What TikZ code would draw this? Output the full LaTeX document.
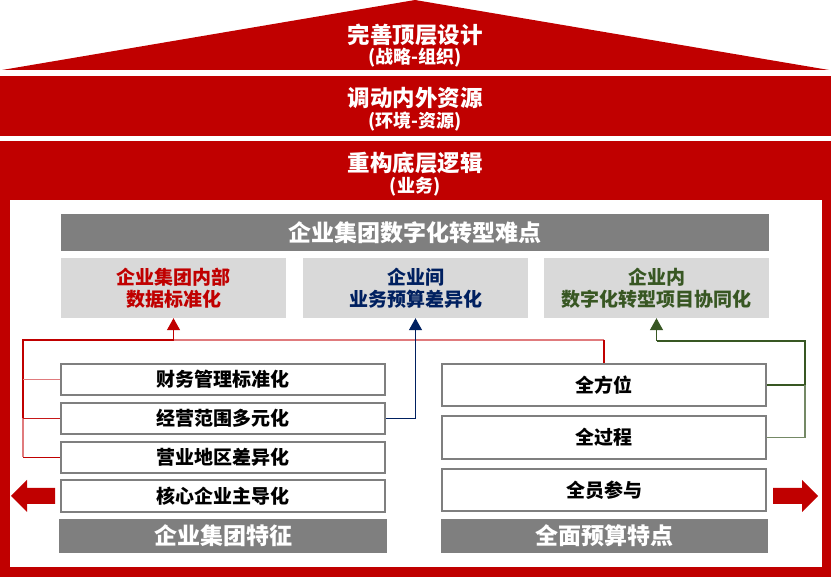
\documentclass[tikz,border=0pt]{standalone}
\usepackage{fontspec}
\setmainfont{Noto Sans CJK SC}
\usetikzlibrary{arrows.meta}
\definecolor{myred}{HTML}{C00000}
\definecolor{pinkred}{HTML}{E07B7D}
\definecolor{mygray}{HTML}{7F7F7F}
\definecolor{lightgr}{HTML}{D9D9D9}
\definecolor{myblue}{HTML}{002060}
\definecolor{mygreen}{HTML}{385723}
\tikzset{
  bigtxt/.style={text=white,font=\fontsize{22.5}{26}\selectfont\bfseries,inner sep=0pt},
  subtxt/.style={text=white,font=\fontsize{18}{20}\selectfont\bfseries,inner sep=0pt},
  graybar/.style={fill=mygray,text=white,font=\fontsize{23}{26}\selectfont\bfseries,inner sep=0pt},
  hardbox/.style={fill=lightgr,font=\fontsize{19}{22}\selectfont\bfseries,align=center,inner sep=0pt,minimum width=225pt,minimum height=60pt},
  featbox/.style={draw=mygray,line width=2pt,fill=white,font=\fontsize{19}{22}\selectfont\bfseries,inner sep=0pt,minimum width=324pt},
  conn/.style={line width=1.3pt},
  tip/.style={-{Triangle[width=13pt,length=12pt]}},
}
\begin{document}
\begin{tikzpicture}[x=1pt,y=-1pt]
\useasboundingbox (0,0) rectangle (831,577);
% roof and bands
\fill[myred] (2,70) -- (415,0) -- (829,70) -- cycle;
\fill[myred] (0,76) rectangle (831,136);
\fill[myred] (0,141) rectangle (831,577);
\fill[white] (10,200) rectangle (822,567);
\node[bigtxt] (t1) at (415,34.5) {完善顶层设计};
\node[subtxt] (s1) at (415,57.5) {(战略-组织)};
\node[bigtxt] (t2) at (415,98) {调动内外资源};
\node[subtxt] (s2) at (415,122) {(环境-资源)};
\node[bigtxt] (t3) at (415,163) {重构底层逻辑};
\node[subtxt] (s3) at (415,187) {(业务)};
% difficulties
\node[graybar,minimum width=708pt,minimum height=37pt] (title) at (415,232.5) {企业集团数字化转型难点};
\node[hardbox,text=myred] (h1) at (173.5,288) {企业集团内部\\数据标准化};
\node[hardbox,text=myblue] (h2) at (415.5,288) {企业间\\业务预算差异化};
\node[hardbox,text=mygreen] (h3) at (656.5,288) {企业内\\数字化转型项目协同化};
% left features
\node[featbox,minimum height=31pt] (fa) at (223,379.5) {财务管理标准化};
\node[featbox,minimum height=31pt] (fb) at (223,418.5) {经营范围多元化};
\node[featbox,minimum height=31pt] (fc) at (223,457.5) {营业地区差异化};
\node[featbox,minimum height=32pt] (fd) at (223,496) {核心企业主导化};
\node[graybar,minimum width=328pt,minimum height=34pt] (lf) at (223,536) {企业集团特征};
% right features
\node[featbox,minimum height=42pt] (ra) at (604,385) {全方位};
\node[featbox,minimum height=43pt] (rb) at (604,437.5) {全过程};
\node[featbox,minimum height=42pt] (rc) at (604,490) {全员参与};
\node[graybar,minimum width=327pt,minimum height=34pt] (rf) at (604.5,536) {全面预算特点};
% red connectors
\coordinate (rj) at (173.5,340);
\coordinate (rl) at (23,340);
\coordinate (rr) at (604,340);
\draw[conn,myred] (rj) -- (rl) -- (23,418.5);
\draw[conn,pinkred] (23,418.5) -- (23,457.5);
\draw[conn,myred] (23,457.5) -- (fc.west);
\draw[conn,pinkred] (23,379.5) -- (fa.west);
\draw[conn,myred!80!pinkred] (23,418.5) -- (fb.west);
\draw[conn,pinkred] (rj) -- (rr);
\draw[conn,myred] (rr) -- (ra.north);
\draw[conn,myred,tip] (rj) -- (h1.south);
% blue connector
\draw[conn,myblue,tip] (fb.east) -| (h2.south);
% green connectors
\coordinate (gc) at (805,341);
\coordinate (gt) at (656.5,341);
\draw[conn,mygreen] (ra.east) -- (805,385);
\draw[conn,mygreen!70!white] (rb.east) -- (805,437.5) -- (805,385);
\draw[conn,mygreen] (805,385) -- (gc) -- (gt);
\draw[conn,mygreen,tip] (gt) -- (h3.south);
% block arrows
\fill[myred] (55,488) -- (27,488) -- (27,480) -- (11,496) -- (27,512) -- (27,504) -- (55,504) -- cycle;
\fill[myred] (773,488) -- (802,488) -- (802,480) -- (818,496) -- (802,512) -- (802,504) -- (773,504) -- cycle;
\end{tikzpicture}
\end{document}
